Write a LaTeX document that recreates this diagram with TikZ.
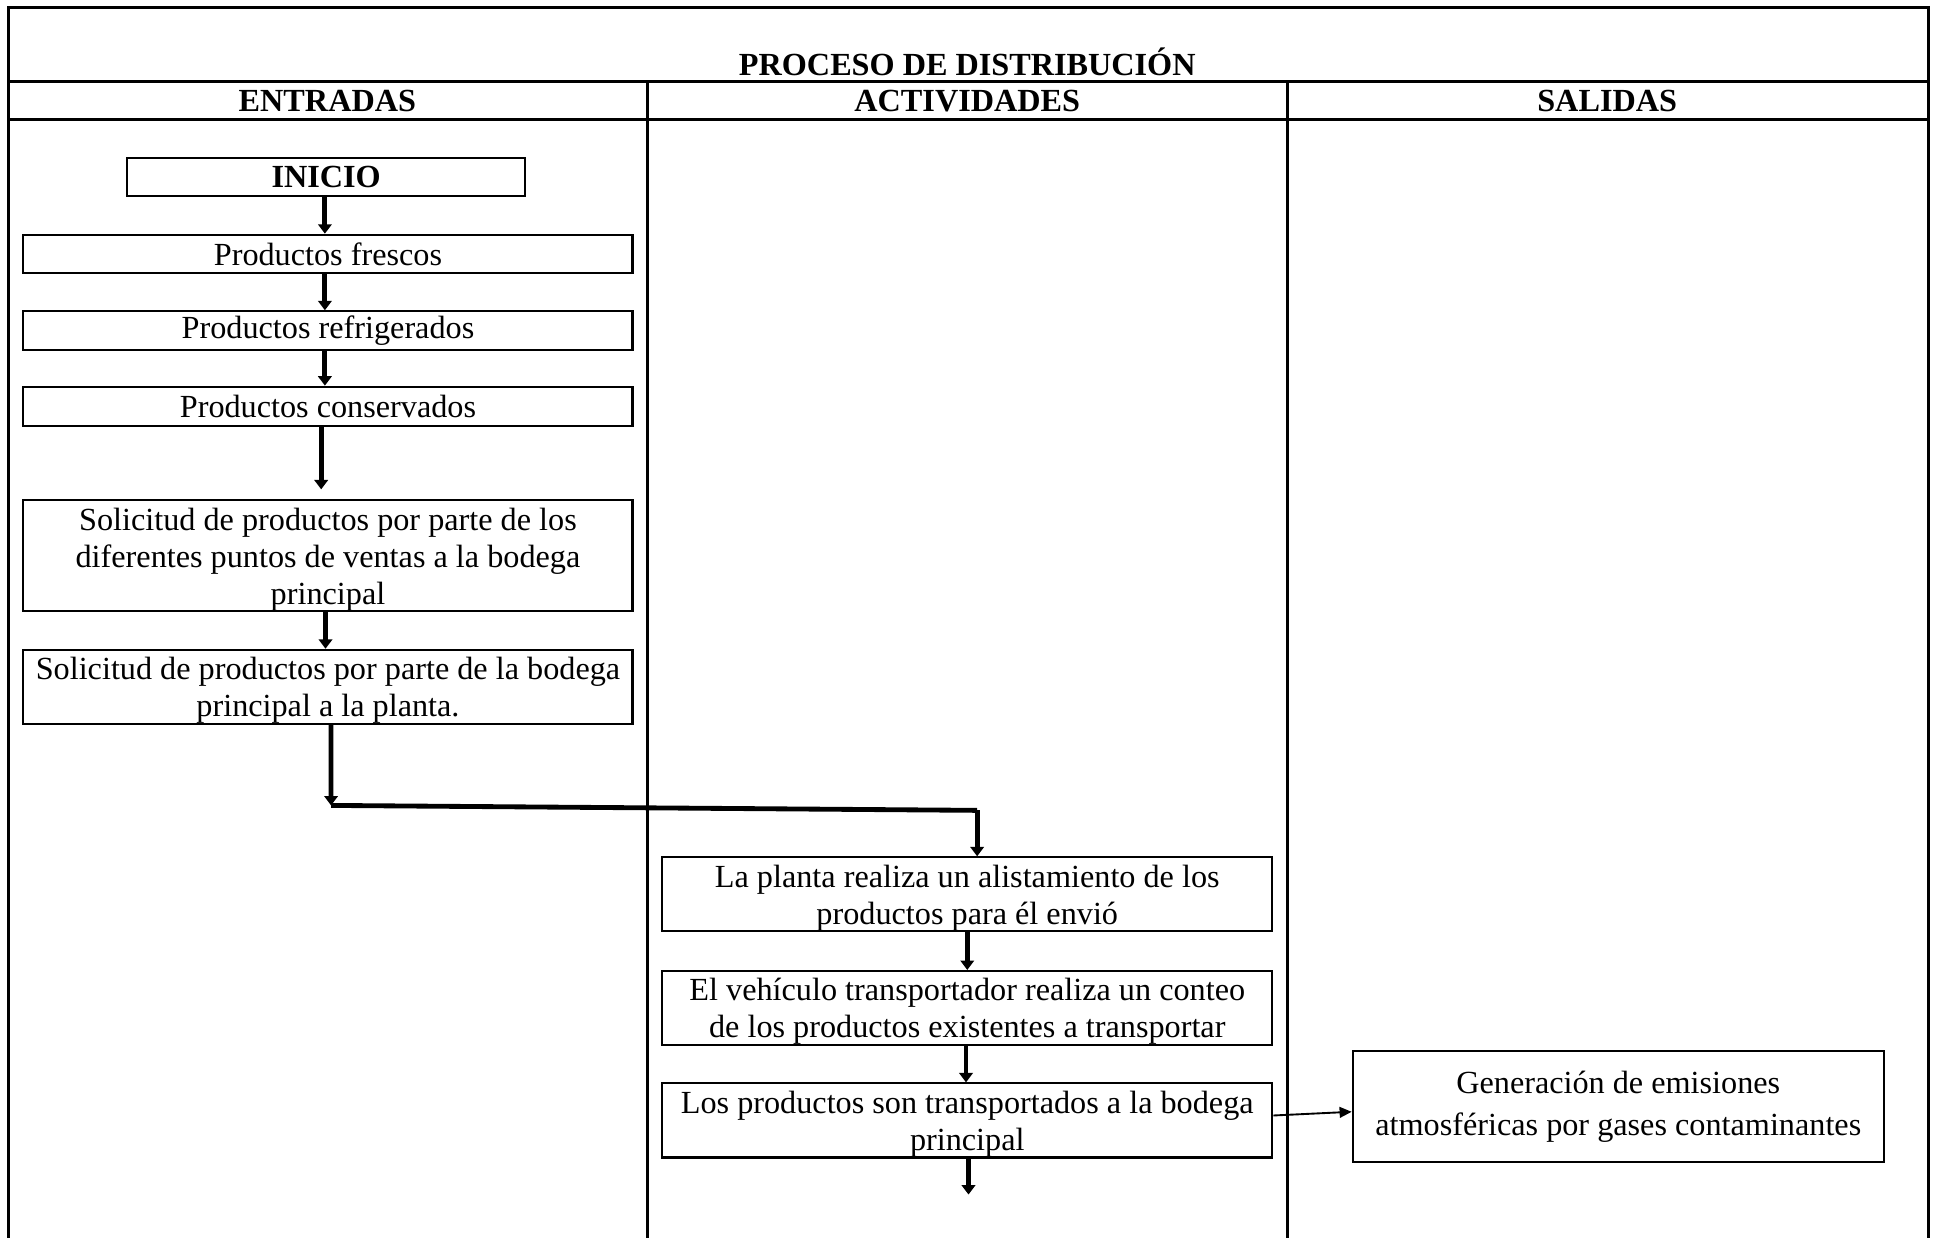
\documentclass[tikz,border=0pt]{standalone}
\usepackage{fontspec}
\setmainfont{Liberation Serif}
\usetikzlibrary{arrows.meta,calc}
\newlength\pxu
\setlength\pxu{0.46pt}
\begin{document}
\begin{tikzpicture}[x=0.46pt,y=-0.46pt,
  frameline/.style={line width=1pt},
  box/.style={draw, line width=0.75pt, inner sep=0pt, align=center,
    font=\fontsize{12}{13.8}\selectfont},
  ebox/.style={box, minimum width={493*\pxu}},
  abox/.style={box, text depth=0pt, minimum width={494*\pxu}, minimum height={60*\pxu}},
  head/.style={font=\fontsize{12}{13.8}\selectfont\bfseries, inner sep=0pt},
  flow/.style={line width=1.8pt, -{Triangle[width=5pt,length=3.5pt]}},
  flowline/.style={line width=1.8pt},
  thinflow/.style={line width=0.7pt, -{Triangle[width=4pt,length=4.5pt]}}
]
\useasboundingbox (0,0) rectangle (1568,1002);
% table frame
\draw[frameline] (7,1002) -- (7,6) -- (1561,6) -- (1561,1002);
\draw[frameline] (7,66) -- (1561,66);
\draw[frameline] (7,97) -- (1561,97);
\draw[frameline] (524,66) -- (524,1002);
\draw[frameline] (1042,66) -- (1042,1002);
% headings
\node[head] (title) at (783,50) {PROCESO DE DISTRIBUCIÓN};
\node[head] (hE) at (265,82) {ENTRADAS};
\node[head] (hA) at (783,82) {ACTIVIDADES};
\node[head] (hS) at (1301,82) {SALIDAS};
% entradas
\node[box, minimum width={322*\pxu}, minimum height={31*\pxu}, font=\fontsize{12}{13.8}\selectfont\bfseries] (ini) at (264,143.5) {INICIO};
\node[ebox, minimum height={31*\pxu}] (pf) at (265.5,205.5) {Productos frescos};
\node[ebox, minimum height={31*\pxu}] (pr) at (265.5,267.5) {Productos refrigerados};
\node[ebox, minimum height={32*\pxu}] (pc) at (265.5,329) {Productos conservados};
\node[ebox, text depth=0pt, minimum height={90*\pxu}] (s1) at (265.5,450) {Solicitud de productos por parte de los\\diferentes puntos de ventas a la bodega\\principal};
\node[ebox, text depth=0pt, minimum height={60*\pxu}] (s2) at (265.5,556) {Solicitud de productos por parte de la bodega\\principal a la planta.};
% actividades
\node[abox] (a1) at (783,724) {La planta realiza un alistamiento de los\\productos para él envió};
\node[abox] (a2) at (783,816) {El vehículo transportador realiza un conteo\\de los productos existentes a transportar};
\node[abox] (a3) at (783,907) {Los productos son transportados a la bodega\\principal};
% salidas
\node[box, minimum width={430*\pxu}, minimum height={90*\pxu}, font=\fontsize{12}{15.6}\selectfont] (out) at (1310,896) {Generación de emisiones\\atmosféricas por gases contaminantes};
% connectors
\coordinate (corner) at (268,652);
\coordinate (turn) at (791,656);
\coordinate (endA) at (784,967);
\draw[flow] ($(ini.south)+(-1,0)$) -- ($(pf.north)+(-2.5,0)$);
\draw[flow] ($(pf.south)+(-2.5,0)$) -- ($(pr.north)+(-2.5,0)$);
\draw[flow] ($(pr.south)+(-2.5,0)$) -- ($(pc.north)+(-2.5,0)$);
\draw[flow, shorten >=3.7pt] ($(pc.south)+(-5.5,0)$) -- ($(s1.north)+(-5.5,0)$);
\draw[flow] ($(s1.south)+(-2,0)$) -- ($(s2.north)+(-2,0)$);
\draw[flow] ($(s2.south)+(2.5,0)$) -- (corner);
\draw[flowline] (corner) -- (turn);
\draw[flow] (turn) -- ($(a1.north)+(8,0)$);
\draw[flow] (a1.south) -- (a2.north);
\draw[flow] ($(a2.south)+(-1,0)$) -- ($(a3.north)+(-1,0)$);
\draw[flow] ($(a3.south)+(1,0)$) -- (endA);
\draw[thinflow] ($(a3.east)+(0,-4)$) -- ($(out.west)+(0,4)$);
\end{tikzpicture}
\end{document}
